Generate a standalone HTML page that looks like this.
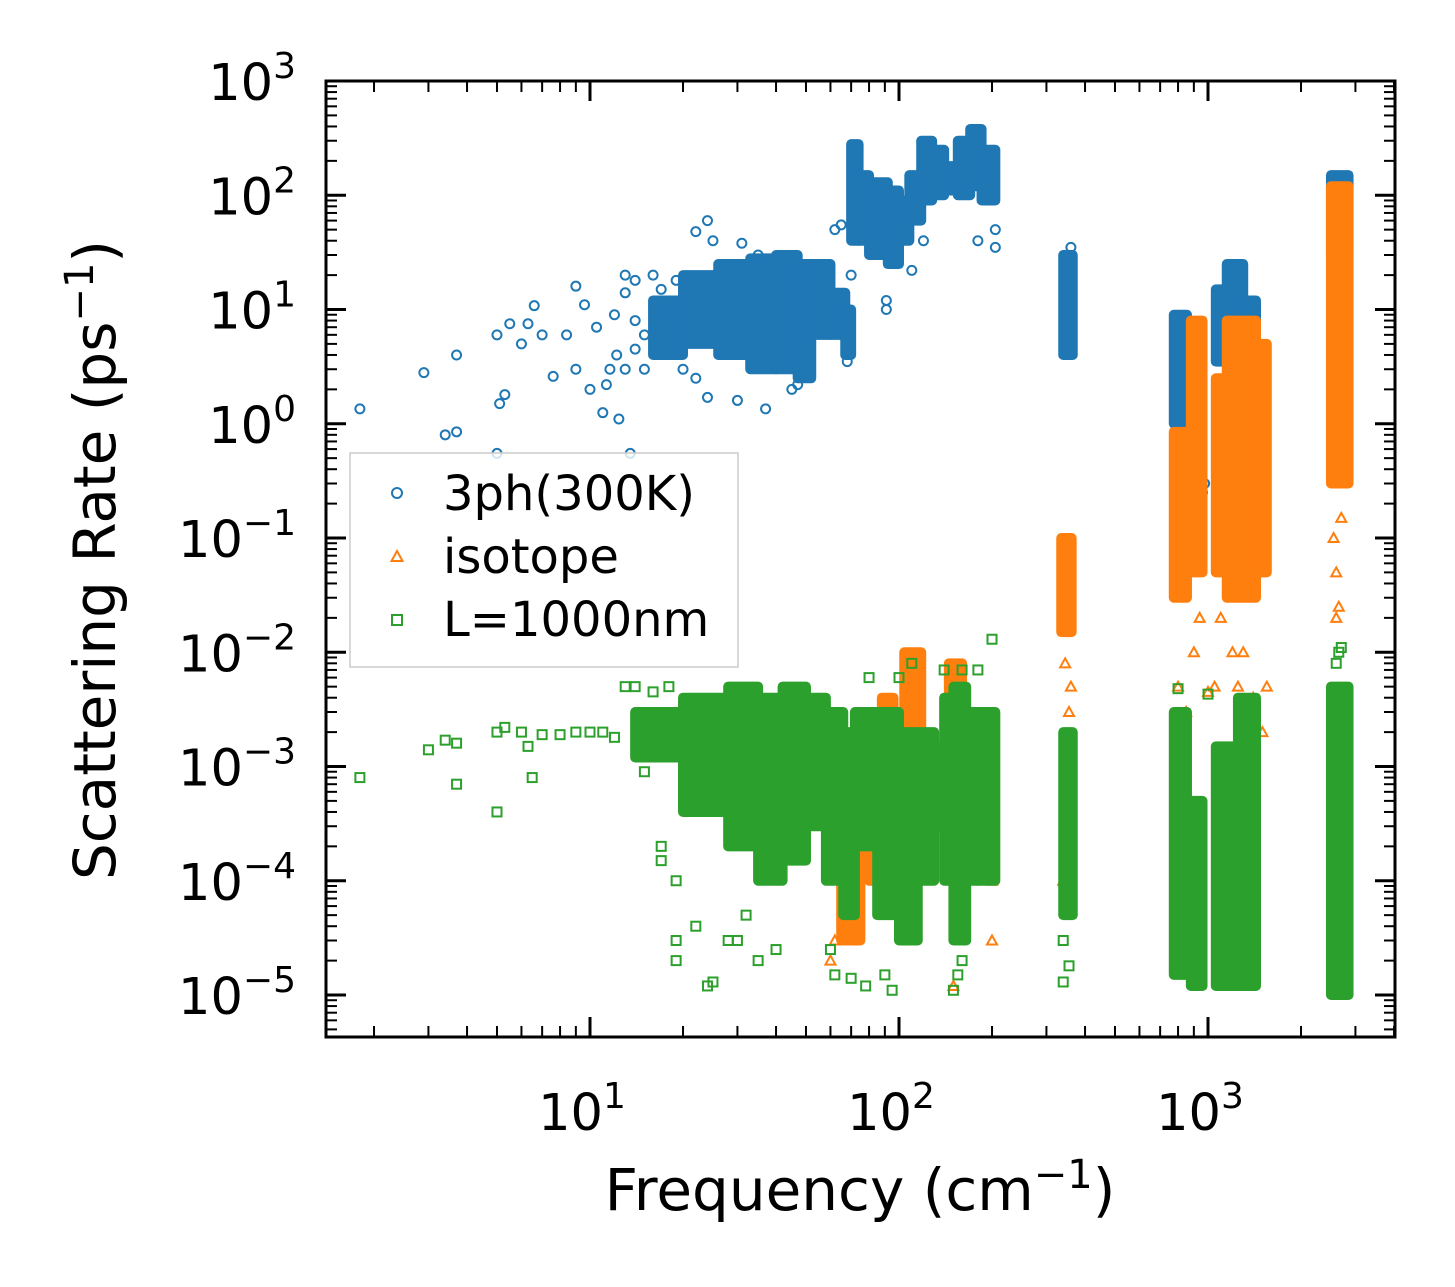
<!DOCTYPE html>
<html><head><meta charset="utf-8">
<style>
html,body{margin:0;padding:0;background:#fff;}
svg{display:block;font-family:"DejaVu Sans","Liberation Sans",sans-serif;}
</style></head>
<body>
<svg id="chart" width="1455" height="1287" viewBox="0 0 1455 1287" xmlns="http://www.w3.org/2000/svg">
<rect width="1455" height="1287" fill="#fff"/>
<g id="marks"></g>
<g id="axes"></g>
<g>
  <rect x="350" y="453" width="388" height="214" fill="#fff" fill-opacity="0.8" stroke="#ccc" stroke-width="1.5"/>
  <g>
    <circle cx="397" cy="493" r="5" fill="none" stroke="#1f77b4" stroke-width="2"/>
    <text x="443" y="510" font-size="48" fill="#000">3ph(300K)</text>
  </g>
  <g>
    <polygon points="397,551 402.5,561 391.5,561" fill="none" stroke="#ff7f0e" stroke-width="2"/>
    <text x="443" y="573" font-size="48" fill="#000">isotope</text>
  </g>
  <g>
    <rect x="392" y="615" width="10" height="10" fill="none" stroke="#2ca02c" stroke-width="2"/>
    <text x="443" y="636" font-size="48" fill="#000">L=1000nm</text>
  </g>
</g>
<text x="860" y="1210" font-size="58" text-anchor="middle">Frequency (cm<tspan dy="-22" font-size="40">−1</tspan><tspan dy="22">)</tspan></text>
<text transform="translate(115,560) rotate(-90)" font-size="58" text-anchor="middle">Scattering Rate (ps<tspan dy="-22" font-size="40">−1</tspan><tspan dy="22">)</tspan></text>
</svg>
<script>
// ---- data ----
const xTickExps = [1, 2, 3];
const yTickExps = [3, 2, 1, 0, -1, -2, -3, -4, -5];
// dense regions: [freqLow, freqHigh, rateLow, rateHigh]
const blueStrips = [[16,20,4,12],[20,26,5,20],[26,33,4,25],[33,40,3,28],[40,47,3,30],[47,52,2.5,25],[52,60,6,25],[60,67,6,14],[67,70,4,10],
 [70,74,40,280],[74,80,40,150],[80,92,30,130],[92,100,25,110],[100,108,40,90],[108,118,60,150],[118,128,90,300],[128,140,100,250],[140,155,110,180],[155,170,100,300],[170,185,120,380],[185,205,90,250],
 [340,365,4,30],[775,855,1,9],[1060,1150,3.5,15],[1150,1300,4,25],[1300,1430,3,12],[2500,2850,30,150]];
const bluePoints = [[1.8,1.35],[2.9,2.8],[3.4,0.8],[3.7,0.85],[3.7,4],[5,6],[5.1,1.5],[5.3,1.8],[5.5,7.5],[5,0.55],[6,5],[6.3,7.5],[6.6,10.8],[7,6],[7.6,2.6],[8.4,6],[9,3],[9,16],[9.6,11],[10,2],[10.5,7],[11,1.25],[11.3,2.2],[11.6,3],[12,9],[12.2,4],[12.4,1.1],[13,14],[13.5,0.55],[13,20],[14,18],[24,60],[22,2.5],[24,1.7],[30,1.6],[37,1.35],[62,50],[65,55],[70,20],[68,3.5],[22,48],[25,40],[31,38],[35,30],[91,12],[91,10],[110,22],[120,40],[180,40],[205,35],[205,50],[345,25],[360,35],[960,0.25],[975,0.3],[1250,0.4],[45,2],[47,2.2],[16,20],[18,10],[15,3],[15,6],[14,8],[17,15],[19,18],[20,3],[14,4.5],[13,3]];
const orangeStrips = [[65,75,3e-5,3e-4],[80,90,1e-4,2e-3],[88,96,3e-4,4e-3],[104,118,2e-4,1e-2],[145,160,3e-4,8e-3],[335,362,0.015,0.1],[775,855,0.03,0.85],[880,960,0.05,8],[1060,1150,0.05,2.5],[1150,1430,0.03,8],[1430,1550,0.05,5],[2500,2850,0.3,120]];
const orangePoints = [[340,1e-4],[345,3e-4],[350,1e-3],[355,3e-3],[360,5e-3],[345,8e-3],[800,5e-3],[850,3e-3],[940,0.02],[1000,4.5e-3],[1050,5e-3],[1200,0.01],[1300,0.01],[1400,4e-3],[1550,5e-3],[1500,2e-3],[2600,0.02],[2650,0.025],[2550,0.1],[2700,0.15],[2600,0.05],[60,2e-5],[62,3e-5],[66,4e-5],[150,1.2e-5],[200,3e-5],[200,1e-4],[200,2e-4],[900,0.01],[1100,0.02],[1250,0.005]];
const greenStrips = [[14,20,1.2e-3,3e-3],[20,28,4e-4,4e-3],[28,35,2e-4,5e-3],[35,42,1e-4,4e-3],[42,50,1.5e-4,5e-3],[50,58,3e-4,4e-3],[58,66,1e-4,3e-3],[66,72,5e-5,2e-3],[72,85,2e-4,3e-3],[85,100,5e-5,3e-3],[100,115,3e-5,2e-3],[115,130,1e-4,2e-3],[130,140,3e-4,1.5e-3],[140,150,1e-4,4e-3],[150,165,3e-5,5e-3],[165,180,1e-4,3e-3],[180,205,1e-4,3e-3],
 [340,365,5e-5,2e-3],[775,855,1.5e-5,3e-3],[880,960,1.2e-5,5e-4],[1060,1250,1.2e-5,1.5e-3],[1250,1430,1.2e-5,4e-3],[2500,2850,1e-5,5e-3]];
const greenPoints = [[1.8,8e-4],[3,1.4e-3],[3.4,1.7e-3],[3.7,1.6e-3],[3.7,7e-4],[5,4e-4],[5,2e-3],[5.3,2.2e-3],[6,2e-3],[6.3,1.5e-3],[6.5,8e-4],[7,1.9e-3],[8,1.9e-3],[9,2e-3],[10,2e-3],[11,2e-3],[12,1.8e-3],[13,5e-3],[15,9e-4],[17,2e-4],[17,1.5e-4],[19,1e-4],[19,3e-5],[19,2e-5],[22,4e-5],[24,1.2e-5],[25,1.3e-5],[28,3e-5],[30,3e-5],[32,5e-5],[35,2e-5],[40,2.5e-5],[60,2.5e-5],[62,1.5e-5],[70,1.4e-5],[78,1.2e-5],[90,1.5e-5],[95,1.1e-5],[150,1.1e-5],[155,1.5e-5],[160,2e-5],[200,1.3e-2],[180,7e-3],[340,1.3e-5],[355,1.8e-5],[340,3e-5],[800,4.8e-3],[1000,4.3e-3],[1200,5e-4],[2600,8e-3],[2700,1.1e-2],[2650,1e-2],[160,7e-3],[140,7e-3],[110,8e-3],[100,6e-3],[80,6e-3],[14,5e-3],[16,4.5e-3],[18,5e-3]];

// ---- axes ----
const X0 = 326, X1 = 1395, Y0 = 81, Y1 = 1037;
const xs = f => 590 + (Math.log10(f) - 1) * 309;
const ys = r => 81 + (3 - Math.log10(r)) * 114.25;
const NS = 'http://www.w3.org/2000/svg';
const marks = document.getElementById('marks');
const axes = document.getElementById('axes');
function mk(tag, attrs, parent) {
  const e = document.createElementNS(NS, tag);
  for (const k in attrs) e.setAttribute(k, attrs[k]);
  parent.appendChild(e);
  return e;
}
const R = 5;
function drawStrips(arr, color, name) {
  arr.forEach(s => {
    const x1 = xs(s[0]) - R, x2 = xs(s[1]) + R, y1 = ys(s[3]) - R, y2 = ys(s[2]) + R;
    const e = mk('rect', {x: x1, y: y1, width: x2 - x1, height: y2 - y1, rx: R, fill: color}, marks);
    
    
  });
}
function drawPoints(arr, color, shape, name) {
  arr.forEach(p => {
    const cx = xs(p[0]), cy = ys(p[1]);
    let e;
    if (shape === 'circle') e = mk('circle', {cx: cx, cy: cy, r: 4.5, fill: 'none', stroke: color, 'stroke-width': 2}, marks);
    else if (shape === 'tri') e = mk('polygon', {points: `${cx},${cy-5} ${cx+5},${cy+4} ${cx-5},${cy+4}`, fill: 'none', stroke: color, 'stroke-width': 2}, marks);
    else e = mk('rect', {x: cx - 4.5, y: cy - 4.5, width: 9, height: 9, fill: 'none', stroke: color, 'stroke-width': 2}, marks);
    
    
  });
}
drawStrips(blueStrips, '#1f77b4', 'three-phonon');
drawPoints(bluePoints, '#1f77b4', 'circle', 'three-phonon');
drawStrips(orangeStrips, '#ff7f0e', 'isotope');
drawPoints(orangePoints, '#ff7f0e', 'tri', 'isotope');
drawStrips(greenStrips, '#2ca02c', 'boundary');
drawPoints(greenPoints, '#2ca02c', 'square', 'boundary');

// frame
const fr = mk('rect', {x: X0, y: Y0, width: X1 - X0, height: Y1 - Y0, fill: 'none', stroke: '#000', 'stroke-width': 3}, axes);


function line(x1, y1, x2, y2, w) { return mk('line', {x1, y1, x2, y2, stroke: '#000', 'stroke-width': w}, axes); }
// x ticks
for (let e = 0; e <= 3; e++) {
  for (let m = 1; m <= 9; m++) {
    const f = m * Math.pow(10, e), x = xs(f);
    if (x < X0 || x > X1) continue;
    const L = m === 1 ? 20 : 11, w = m === 1 ? 3 : 2;
    line(x, Y1, x, Y1 - L, w); line(x, Y0, x, Y0 + L, w);
  }
}
xTickExps.forEach(e => {
  const t = mk('text', {x: xs(Math.pow(10, e)) - 8, y: 1130, 'font-size': 51, 'text-anchor': 'middle'}, axes);
  t.innerHTML = `10<tspan dy="-22" font-size="36">${e}</tspan>`;
  
  
});
// y ticks
for (let e = -6; e <= 3; e++) {
  for (let m = 1; m <= 9; m++) {
    const r = m * Math.pow(10, e), y = ys(r);
    if (y < Y0 - 0.5 || y > Y1) continue;
    const L = m === 1 ? 20 : 11, w = m === 1 ? 3 : 2;
    line(X0, y, X0 + L, y, w); line(X1, y, X1 - L, y, w);
  }
}
yTickExps.forEach(e => {
  const t = mk('text', {x: 296, y: ys(Math.pow(10, e)) + 19, 'font-size': 51, 'text-anchor': 'end'}, axes);
  const s = e < 0 ? '−' + (-e) : '' + e;
  t.innerHTML = `10<tspan dy="-22" font-size="36">${s}</tspan>`;
  
  
});
</script>
</body></html>
